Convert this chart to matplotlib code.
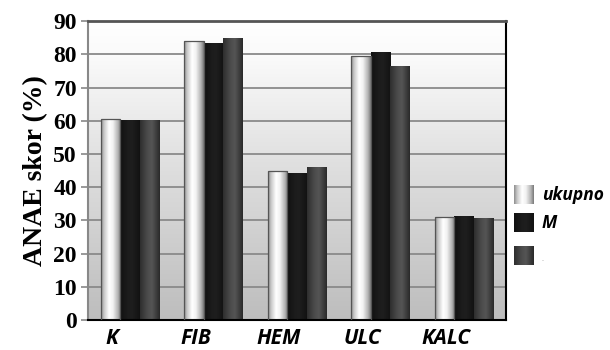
import numpy as np
import matplotlib
matplotlib.use("Agg")
import matplotlib.pyplot as plt
from matplotlib.colors import LinearSegmentedColormap
from matplotlib.patches import Rectangle
from matplotlib.transforms import ScaledTranslation

# Podaci: ANAE skor (%) po kategorijama
kategorije = ["K", "FIB", "HEM", "ULC", "KALC"]
ukupno = [60.5, 84.1, 45.0, 79.6, 31.1]
muski = [60.3, 83.5, 44.2, 80.8, 31.3]
treca = [60.3, 85.0, 46.0, 76.6, 30.7]
oznake = ["ukupno", "M", "-"]
y_ticks = list(range(0, 91, 10))

# Cilindricni gradijenti za stupce (lijevo -> desno)
grad_bijeli = LinearSegmentedColormap.from_list(
    "bijeli", [(0, "#8f8f8f"), (0.15, "#c8c8c8"), (0.4, "#ffffff"),
               (0.6, "#f2f2f2"), (0.85, "#b5b5b5"), (1, "#7a7a7a")])
grad_crni = LinearSegmentedColormap.from_list(
    "crni", [(0, "#111111"), (0.4, "#1c1c1c"), (0.6, "#1e1e1e"), (1, "#121212")])
grad_sivi = LinearSegmentedColormap.from_list(
    "sivi", [(0, "#2e2e2e"), (0.35, "#4a4a4a"), (0.6, "#555555"), (1, "#2a2a2a")])
gradijenti = [grad_bijeli, grad_crni, grad_sivi]

fig = plt.figure(figsize=(6.1, 3.5), dpi=100)
ax = fig.add_axes([0.1443, 0.0857, 0.6852, 0.854])

x = np.arange(len(kategorije))
sirina = 0.233
xmin, xmax = -0.5, len(kategorije) - 0.5
ax.set_xlim(xmin, xmax)
ax.set_ylim(0, 90)

# Pozadina: vertikalni gradijent od bijele prema sivoj
pozadina = LinearSegmentedColormap.from_list(
    "poz", [(0, "#bdbdbd"), (0.5, "#dedede"), (0.88, "#fafafa"), (1, "#ffffff")])
ax.imshow(np.linspace(0, 1, 256).reshape(-1, 1), cmap=pozadina, origin="lower",
          extent=(xmin, xmax, 0, 90), aspect="auto", zorder=0)

ax.set_yticks(y_ticks)
ax.yaxis.grid(True, color="#8a8a8a", linewidth=1.3, zorder=1)
ax.set_axisbelow(True)

grad_red = np.linspace(0, 1, 64).reshape(1, -1)
for i, serija in enumerate([ukupno, muski, treca]):
    pomak = (i - 1) * sirina
    bars = ax.bar(x + pomak, serija, sirina, color="none", edgecolor="none", zorder=3)
    for b in bars:
        x0 = b.get_x()
        h = b.get_height()
        im = ax.imshow(grad_red, cmap=gradijenti[i], extent=(x0, x0 + sirina, 0, h),
                       aspect="auto", zorder=2 + i * 0.1)
        okvir = Rectangle((x0, 0), sirina, h, transform=ax.transData)
        im.set_clip_path(okvir)
        if i == 0:
            ax.add_patch(Rectangle((x0, 0), sirina, h, facecolor="none",
                                   edgecolor="#555555", linewidth=0.9, zorder=4))

ax.set_xlim(xmin, xmax)
ax.set_ylim(0, 90)

# Osi
ax.spines["left"].set_color("#888888")
ax.spines["left"].set_linewidth(1.5)
ax.spines["top"].set_color("#555555")
ax.spines["top"].set_linewidth(2)
ax.spines["right"].set_color("black")
ax.spines["right"].set_linewidth(1.5)
ax.spines["bottom"].set_color("black")
ax.spines["bottom"].set_linewidth(1.5)

ax.tick_params(axis="y", length=5, width=1.2, color="#888888", pad=3)
ax.tick_params(axis="x", length=0, pad=6)
ax.set_xticks(x)
ax.set_xticklabels(kategorije, fontfamily=["Open Sans", "DejaVu Sans"],
                   fontweight="bold", fontstyle="italic", fontsize=15)
# nazivi kategorija malo pomaknuti ulijevo
pomak_lijevo = ScaledTranslation(-18 / 100, 0, fig.dpi_scale_trans)
for lbl in ax.get_xticklabels():
    lbl.set_transform(lbl.get_transform() + pomak_lijevo)
for lbl in ax.get_yticklabels():
    lbl.set_fontfamily("Liberation Serif")
    lbl.set_fontweight("bold")
    lbl.set_fontsize(17)

ax.set_ylabel("ANAE skor (%)", fontfamily="Liberation Serif", fontweight="bold",
              fontsize=20, labelpad=4)

# Legenda s gradijentnim kvadraticima
leg_x0, leg_x1 = 514 / 610, 534 / 610
redovi = [(185, 204), (213, 232), (246, 265)]
for i, (t, b) in enumerate(redovi):
    lax = fig.add_axes([leg_x0, 1 - b / 350, leg_x1 - leg_x0, (b - t) / 350])
    lax.imshow(grad_red, cmap=gradijenti[i], aspect="auto")
    lax.axis("off")
    if oznake[i] == "-":
        fig.text(542 / 610, 1 - (b - 4) / 350, "-", fontsize=4, color="#999999",
                 va="center", ha="left")
    else:
        fig.text(542 / 610, 1 - (t + b) / 2 / 350, oznake[i],
                 fontfamily=["Open Sans", "DejaVu Sans"], fontweight="bold",
                 fontstyle="italic", fontsize=12.5, va="center", ha="left")

fig.savefig("out.png", dpi=100)
